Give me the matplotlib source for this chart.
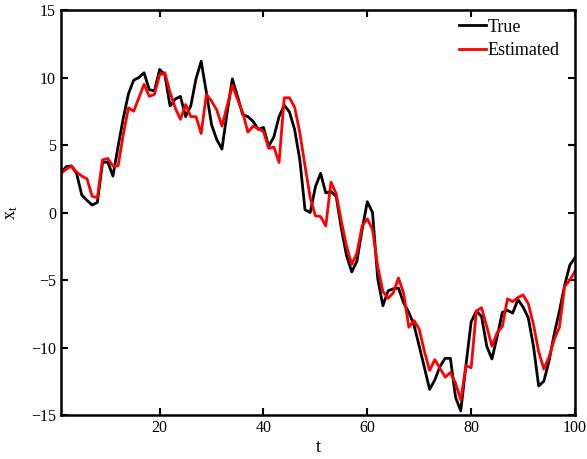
import matplotlib
matplotlib.use("Agg")
import matplotlib.pyplot as plt
import numpy as np

t = list(range(1, 101))
true_vals = [2.9, 3.4, 3.45, 2.9, 1.3, 0.9, 0.55, 0.75, 3.7, 3.75,
             2.7, 4.9, 7.0, 8.8, 9.8, 10.0, 10.35, 9.1, 9.0, 10.6,
             10.2, 7.9, 8.4, 8.6, 7.1, 7.9, 9.9, 11.2, 8.9, 6.5,
             5.4, 4.7, 7.4, 9.9, 8.6, 7.25, 7.1, 6.75, 6.15, 6.3,
             4.9, 5.6, 7.1, 7.95, 7.45, 6.15, 3.9, 0.2, 0.0, 1.9,
             2.9, 1.45, 1.55, 1.2, -1.2, -3.2, -4.4, -3.6, -1.25, 0.8,
             0.0, -4.9, -6.9, -5.8, -5.65, -5.6, -6.7, -7.4, -8.35, -9.9,
             -11.5, -13.1, -12.4, -11.4, -10.8, -10.8, -13.7, -14.7, -11.3, -8.1,
             -7.3, -7.7, -9.9, -10.85, -9.2, -7.4, -7.25, -7.45, -6.45, -7.0,
             -7.8, -9.9, -12.85, -12.5, -11.0, -9.0, -7.3, -5.4, -3.9, -3.35]
est_vals = [2.9, 3.2, 3.45, 3.0, 2.7, 2.5, 1.2, 1.1, 3.9, 4.0,
            3.45, 3.45, 5.8, 7.75, 7.5, 8.5, 9.5, 8.6, 8.75, 10.2,
            10.35, 8.9, 7.75, 6.9, 8.0, 7.1, 7.1, 5.85, 8.75, 8.25,
            7.6, 6.4, 7.9, 9.4, 8.4, 7.4, 5.95, 6.4, 6.2, 6.0,
            4.75, 4.85, 3.7, 8.5, 8.5, 7.8, 5.9, 3.45, 1.1, -0.25,
            -0.3, -1.0, 2.25, 1.4, -0.65, -2.5, -3.85, -3.0, -1.0, -0.47,
            -1.26, -4.0, -5.85, -6.35, -5.95, -4.85, -6.0, -8.5, -8.0, -8.65,
            -10.3, -11.7, -10.9, -11.55, -12.2, -11.85, -12.65, -13.9, -11.35, -11.5,
            -7.3, -7.05, -8.45, -9.9, -8.9, -8.45, -6.4, -6.6, -6.3, -6.1,
            -6.75, -8.3, -10.3, -11.6, -10.7, -9.4, -8.5, -5.5, -5.0, -4.35]
xticks = [20, 40, 60, 80, 100]
yticks = [-15, -10, -5, 0, 5, 10, 15]

plt.rcParams['font.family'] = ['Liberation Serif', 'DejaVu Serif']
plt.rcParams['mathtext.fontset'] = 'custom'
plt.rcParams['mathtext.rm'] = 'Liberation Serif'
plt.rcParams['mathtext.it'] = 'Liberation Serif'

fig = plt.figure(figsize=(5.87, 4.59), dpi=100)
ax = fig.add_axes([61/587, 1-415/459, (575-61)/587, (415-10)/459])
ax.plot(t, true_vals, color='black', lw=2, label='True')
ax.plot(t, est_vals, color='#ff0000', lw=2, label='Estimated')
ax.set_xlim(1, 100)
ax.set_ylim(-15, 15)
ax.set_xticks(xticks)
ax.set_yticks(yticks)
ax.tick_params(direction='in', length=5, width=1.5, top=True, right=True, labelsize=11.5)
for s in ax.spines.values():
    s.set_linewidth(1.8)
ax.set_xlabel('t', fontsize=13, labelpad=2)
ax.set_ylabel(r'$\mathregular{x_t}$', fontsize=13, labelpad=8)
leg = ax.legend(loc='upper right', bbox_to_anchor=(563/587, 1-15/459),
                bbox_transform=fig.transFigure, frameon=False, fontsize=13,
                handlelength=1.5, handletextpad=0.05, borderaxespad=0.0,
                borderpad=0.2, labelspacing=0.35)
fig.savefig('out.png', dpi=100)
